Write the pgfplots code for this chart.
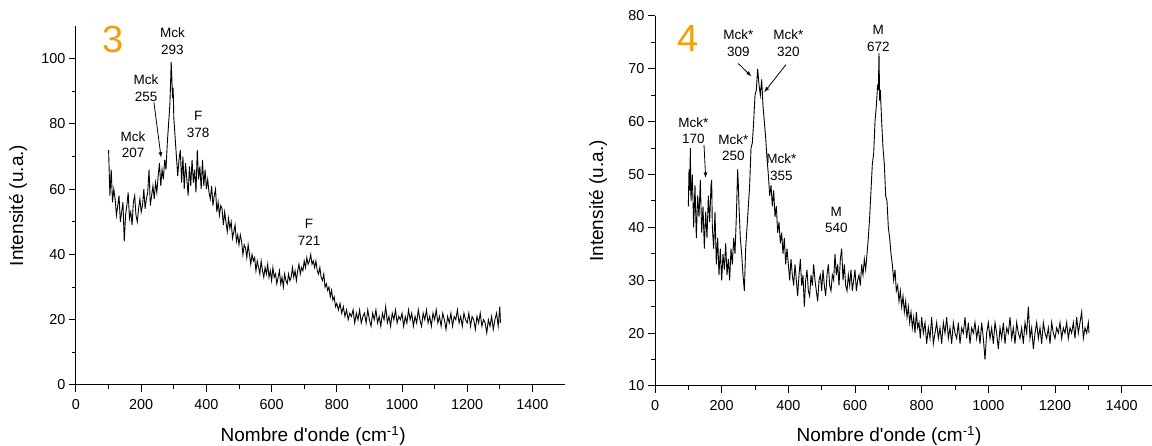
\documentclass[border=0pt]{standalone}
\usepackage{pgfplots}
\pgfplotsset{compat=1.18}
\usepackage{fontspec}
\setmainfont{Liberation Sans}
\newfontfamily\plainfont{Liberation Sans}
\definecolor{numorange}{RGB}{245,158,11}

\pgfplotstableread{
x y
100 72
104 58
108 66
112 56
116 60
120 57
124 52
128 55
132 58
136 50
140 53
144 56
148 44
152 52
156 55
160 59
164 51
168 53
172 49
176 56
180 58
184 52
188 50
192 54
196 57
200 53
204 55
208 60
212 54
216 57
220 59
224 66
228 55
232 58
236 61
240 57
244 62
248 59
252 64
256 68
260 61
264 66
268 63
272 69
276 66
280 74
284 80
288 86
290 92
292 99
294 94
296 88
298 91
300 82
304 76
308 70
312 64
316 69
320 72
324 62
328 70
332 60
336 68
340 63
344 58
348 67
352 61
356 69
360 62
364 66
368 59
372 72
376 63
380 67
384 60
388 69
392 61
396 66
400 60
404 63
408 59
412 57
416 61
420 55
424 58
428 60
432 53
436 56
440 52
444 55
448 54
452 49
456 53
460 50
464 47
468 51
472 48
476 50
480 45
484 47
488 49
492 44
496 46
500 43
504 46
508 44
512 40
516 43
520 42
524 39
528 43
532 40
536 37
540 40
544 38
548 39
552 35
556 38
560 36
564 34
568 38
572 35
576 33
580 36
584 34
588 37
592 33
596 35
600 32
604 36
608 33
612 34
616 31
620 33
624 35
628 31
632 33
636 30
640 34
644 32
648 31
652 34
656 32
660 33
664 36
668 33
672 35
676 32
680 35
684 37
688 34
692 36
696 35
700 38
704 36
708 39
712 37
716 38
720 40
724 37
728 38
732 36
736 38
740 35
744 34
748 36
752 33
756 32
760 34
764 30
768 31
772 29
776 30
780 27
784 29
788 26
792 27
796 24
800 25
805 23
810 25
815 22
820 24
825 21
830 23
835 20
840 22
845 21
850 23
855 19
860 22
865 20
870 23
875 19
880 21
885 22
890 19
895 23
900 20
905 18
910 22
915 20
920 23
925 19
930 21
935 18
940 22
945 20
950 24
955 19
960 21
965 18
970 22
975 20
980 23
985 19
990 21
995 20
1000 22
1005 18
1010 21
1015 19
1020 23
1025 20
1030 22
1035 18
1040 21
1045 19
1050 23
1055 20
1060 18
1065 22
1070 20
1075 23
1080 19
1085 21
1090 18
1095 22
1100 20
1105 23
1110 19
1115 21
1120 18
1125 22
1130 20
1135 17
1140 21
1145 19
1150 22
1155 18
1160 21
1165 20
1170 23
1175 19
1180 21
1185 18
1190 22
1195 20
1200 19
1205 22
1210 18
1215 21
1220 20
1225 17
1230 21
1235 19
1240 22
1245 18
1250 20
1255 19
1260 16
1265 20
1270 18
1275 21
1280 17
1285 20
1290 22
1295 18
1300 24
1302 19
}\spectrumA

\pgfplotstableread{
x y
100 44
102 51
104 47
106 55
108 45
112 50
116 40
120 48
124 38
128 46
132 42
136 49
140 39
144 44
148 36
152 43
156 38
160 46
164 41
168 48
170 49
172 40
176 36
180 43
184 33
188 38
192 31
196 36
200 30
204 35
208 32
212 37
216 31
220 34
224 30
228 36
232 33
236 38
240 35
244 42
248 51
250 48
252 44
256 38
260 35
264 31
268 28
272 36
276 40
280 44
284 48
288 55
292 56
296 60
300 65
304 66
308 70
312 67
316 65
320 68
324 63
328 60
332 57
336 53
340 50
344 46
348 48
352 44
356 47
360 42
364 44
368 39
372 41
376 37
380 39
384 35
388 38
392 33
396 36
400 33
404 30
408 34
412 31
416 29
420 33
424 30
428 27
432 31
436 34
440 29
444 31
448 25
452 30
456 32
460 28
464 27
468 31
472 29
476 33
480 30
484 28
488 26
492 30
496 31
500 28
504 32
508 29
512 27
516 31
520 33
524 29
528 28
532 31
536 30
540 35
544 31
548 33
552 29
556 34
560 36
564 30
568 33
572 29
576 28
580 31
584 29
588 32
592 28
596 30
600 32
604 28
608 30
612 31
616 29
620 33
624 31
628 34
632 32
636 35
640 38
644 42
648 47
652 52
656 54
660 60
664 63
668 67
670 66
672 73
674 64
676 66
680 60
684 55
688 52
692 46
696 45
700 40
704 38
708 35
712 33
716 30
720 32
724 28
728 29
732 26
736 28
740 25
744 27
748 24
752 26
756 23
760 25
764 22
768 24
772 21
776 23
780 20
784 24
788 21
792 22
796 19
800 23
805 20
810 22
815 18
820 21
825 19
830 23
835 18
840 20
845 22
850 19
855 21
860 18
865 22
870 20
875 23
880 19
885 21
890 18
895 22
900 20
905 19
910 22
915 18
920 21
925 20
930 23
935 19
940 22
945 18
950 21
955 20
960 22
965 19
970 21
975 18
980 22
985 19
990 15
995 20
1000 22
1005 19
1010 21
1015 18
1020 22
1025 20
1030 17
1035 21
1040 19
1045 22
1050 18
1055 21
1060 20
1065 23
1070 19
1075 21
1080 18
1085 22
1090 20
1095 19
1100 21
1105 18
1110 22
1115 20
1120 25
1125 19
1130 21
1135 17
1140 20
1145 22
1150 19
1155 21
1160 18
1165 22
1170 20
1175 19
1180 21
1185 18
1190 22
1195 20
1200 19
1205 21
1210 20
1215 22
1220 19
1225 21
1230 20
1235 22
1240 19
1245 21
1250 20
1255 22
1260 19
1265 23
1270 20
1275 22
1280 24
1285 19
1290 21
1295 20
1300 22
1302 20
}\spectrumB

\pgfplotsset{
  ramanstyle/.style={
    scale only axis,
    anchor=south west,
    xmin=0, xmax=1500,
    xtick={0,200,...,1400},
    minor x tick num=1,
    minor y tick num=1,
    axis x line*=bottom,
    axis y line*=left,
    axis line style={-, line width=1pt, black},
    tick align=outside,
    major tick length=7pt,
    minor tick length=4pt,
    every tick/.style={black, line width=1pt},
    tick label style={font=\fontsize{14.4}{16}\selectfont},
    xticklabel shift=4pt,
    /pgf/number format/assume math mode=true,
    /pgf/number format/1000 sep={},
    scaled ticks=false,
    clip=false,
  },
}
\tikzset{
  annot/.style={font=\fontsize{13.5}{16.5}\selectfont, align=center, inner sep=0pt},
  bigno/.style={font=\fontsize{38}{40}\selectfont, text=numorange, inner sep=0pt},
  axlab/.style={font=\plainfont\fontsize{19}{21}\selectfont, inner sep=0pt},
}

\begin{document}
\begin{tikzpicture}
\useasboundingbox (0,0) rectangle (1152pt,446pt);

\begin{axis}[ramanstyle,
  at={(76pt,61pt)}, width=489pt, height=359pt,
  ymin=0, ymax=110, ytick={0,20,...,100}]
  \addplot[black, line width=0.9pt] table[x=x,y=y] {\spectrumA};
  \node[bigno] at (axis cs:115,106) {3};
  \node[annot] at (axis cs:296,105.3) {Mck\\293};
  \node[annot] at (axis cs:215,91) {Mck\\255};
  \draw[-latex, line width=0.8pt] (axis cs:239,86.6) -- (axis cs:261,69.7);
  \node[annot] at (axis cs:175,73.7) {Mck\\207};
  \node[annot] at (axis cs:375,79.8) {F\\378};
  \node[annot] at (axis cs:715,46.7) {F\\721};
  \node[axlab, yshift=-51pt] at (rel axis cs:0.485,0) {Nombre d'onde (cm\textsuperscript{-1})};
  \node[axlab, xshift=-58pt, rotate=90] at (rel axis cs:0,0.5) {Intensité (u.a.)};
\end{axis}

\begin{axis}[ramanstyle,
  at={(655pt,60pt)}, width=500pt, height=370pt,
  ymin=10, ymax=80, ytick={10,20,...,80}]
  \addplot[black, line width=0.9pt] table[x=x,y=y] {\spectrumB};
  \node[bigno] at (axis cs:100,75.8) {4};
  \node[annot] at (axis cs:250,74.9) {Mck*\\309};
  \node[annot] at (axis cs:400,74.9) {Mck*\\320};
  \draw[-latex, line width=0.8pt] (axis cs:250,71.0) -- (axis cs:289,68.6);
  \draw[-latex, line width=0.8pt] (axis cs:393,70.8) -- (axis cs:328,65.6);
  \node[annot] at (axis cs:115,58.3) {Mck*\\170};
  \draw[-latex, line width=0.8pt] (axis cs:147,55.6) -- (axis cs:152,49.4);
  \node[annot] at (axis cs:235,55.1) {Mck*\\250};
  \node[annot] at (axis cs:379,51.4) {Mck*\\355};
  \node[annot] at (axis cs:544,41.4) {M\\540};
  \node[annot] at (axis cs:670,75.8) {M\\672};
  \node[axlab, yshift=-50pt] at (rel axis cs:0.468,0) {Nombre d'onde (cm\textsuperscript{-1})};
  \node[axlab, xshift=-57pt, rotate=90] at (rel axis cs:0,0.5) {Intensité (u.a.)};
\end{axis}
\end{tikzpicture}
\end{document}
